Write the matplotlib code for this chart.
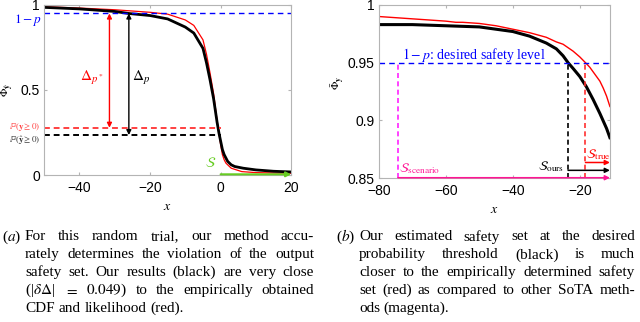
import numpy as np
import matplotlib
matplotlib.use("Agg")
import matplotlib.pyplot as plt

plt.rcParams["font.family"] = ["Liberation Sans", "DejaVu Sans"]
plt.rcParams["mathtext.fontset"] = "stix"

# --- (a) full CDF view ---
xa_ours = [-50, -40, -30, -26, -20, -15, -10, -7.6, -5, -4, -3, -2, -1.5, -1, -0.5, 0, 0.5, 1, 2, 3, 4, 6.4, 10, 15, 20]
ya_ours = [0.986, 0.977, 0.962, 0.950, 0.938, 0.918, 0.870, 0.835, 0.745, 0.66, 0.56, 0.45, 0.38, 0.31, 0.25, 0.20, 0.15, 0.12, 0.08, 0.06, 0.05, 0.04, 0.03, 0.022, 0.018]
xa_true = [-50, -40, -30, -20, -15, -10, -7.6, -5, -4, -3, -2, -1.5, -1, -0.5, 0, 0.5, 1, 1.5, 3, 6, 10, 20]
ya_true = [0.990, 0.982, 0.972, 0.957, 0.946, 0.912, 0.880, 0.795, 0.71, 0.60, 0.48, 0.40, 0.32, 0.25, 0.18, 0.12, 0.09, 0.07, 0.04, 0.02, 0.014, 0.01]
level = 0.95
p_true = 0.278
p_ours = 0.235
arrow_x_true = -31.5
arrow_x_ours = -26

# --- (b) zoom on the tail ---
xb_ours = [-80, -70, -60, -50, -45, -40, -35, -30, -27, -25, -23.5, -22, -20, -18, -16, -14, -12, -11]
yb_ours = [0.983, 0.983, 0.982, 0.981, 0.979, 0.977, 0.973, 0.967, 0.962, 0.956, 0.950, 0.945, 0.938, 0.929, 0.918, 0.906, 0.893, 0.885]
xb_true = [-80, -75, -70, -65, -60, -57, -55, -50, -45, -40, -35, -30, -27, -25, -22, -20, -18.3, -17, -16, -14, -13, -12, -11]
yb_true = [0.990, 0.989, 0.988, 0.987, 0.986, 0.985, 0.985, 0.984, 0.982, 0.979, 0.976, 0.972, 0.968, 0.966, 0.960, 0.955, 0.950, 0.946, 0.942, 0.934, 0.928, 0.921, 0.912]
s_scenario = -74.3
s_ours = -23.5
s_true = -18.3
b_end = -11

fig = plt.figure(figsize=(6.4, 3.22), dpi=100)
gray = "#b4b4b4"
serif = ["Liberation Serif", "DejaVu Serif"]


def style(ax):
    for sp in ax.spines.values():
        sp.set_color(gray)
        sp.set_linewidth(0.8)
    ax.tick_params(direction="in", length=2.5, color=gray, labelsize=10,
                   top=True, right=True, pad=3)
    ax.tick_params(axis="x", pad=4.5)


# ---------- left ----------
ax = fig.add_axes([0.069, 0.4565, 0.386, 0.528])
ax.plot(xa_true, ya_true, color="red", lw=0.9)
ax.plot(xa_ours, ya_ours, color="black", lw=2.0)
ax.axhline(level, color="blue", ls=(0, (4, 3)), lw=1)
ax.plot([-50, 0], [p_true, p_true], color="#ff4040", ls=(0, (3, 2)), lw=1.4)
ax.plot([-50, 0], [p_ours, p_ours], color="black", ls=(0, (3, 2)), lw=1.4)
ax.annotate("", xy=(arrow_x_true, p_true), xytext=(arrow_x_true, level),
            arrowprops=dict(arrowstyle="<|-|>", color="red", lw=1, mutation_scale=7, shrinkA=0, shrinkB=0))
ax.annotate("", xy=(arrow_x_ours, p_ours), xytext=(arrow_x_ours, level),
            arrowprops=dict(arrowstyle="<|-|>", color="black", lw=1, mutation_scale=7, shrinkA=0, shrinkB=0))
ax.text(-36.5, 0.57, r"$\Delta_{p^*}$", color="red", fontsize=11, ha="center", va="center")
ax.text(-22.5, 0.57, r"$\Delta_{p}$", color="black", fontsize=11, ha="center", va="center")
ax.annotate("", xy=(20, 0.004), xytext=(0, 0.004),
            arrowprops=dict(arrowstyle="-|>", color="#66cc22", lw=1.5, mutation_scale=7, shrinkA=0, shrinkB=0))
ax.text(-1.2, 0.07, r"$\mathcal{S}$", color="#66cc22", fontsize=10, ha="right", va="center")
ax.set_xlim(-50, 20)
ax.set_ylim(0, 1)
ax.set_xticks([-40, -20, 0, 20])
ax.set_yticks([0, 0.5, 1])
ax.set_yticklabels(["0", "0.5", "1"])
ax.set_xlabel(r"$x$", fontsize=10, labelpad=3)
ax.text(-0.15, 0.5, r"$\bar{\Phi}_{\hat{\mathbf{y}}}$", transform=ax.transAxes, fontsize=8,
        rotation=90, ha="center", va="center")
ax.text(-0.01, 0.912, r"$1-p$", color="blue", fontsize=9.5, ha="right", va="center",
        transform=ax.get_yaxis_transform())
ax.text(-0.015, p_true + 0.005, r"$\mathbb{P}(\mathbf{y}\geq 0)$", color="#ff4040", fontsize=6.5,
        ha="right", va="center", transform=ax.get_yaxis_transform())
ax.text(-0.015, p_ours - 0.035, r"$\mathbb{P}(\hat{\mathbf{y}}\geq 0)$", color="#333333", fontsize=6.5,
        ha="right", va="center", transform=ax.get_yaxis_transform())
style(ax)

# ---------- right ----------
bx = fig.add_axes([0.592, 0.447, 0.361, 0.5375])
bx.plot(xb_true, yb_true, color="red", lw=1)
bx.plot(xb_ours, yb_ours, color="black", lw=2.2)
bx.axhline(level, color="blue", ls=(0, (4, 3)), lw=1)
bx.plot([s_scenario, s_scenario], [0.85, level], color="#ff22ff", ls=(0, (3, 2)), lw=1.2)
bx.plot([s_ours, s_ours], [0.85, level], color="black", ls=(0, (3, 2)), lw=1.2)
bx.plot([s_true, s_true], [0.85, level], color="#ff3030", ls=(0, (3, 2)), lw=1.2)
for x0, y0, c in [(s_scenario, 0.8503, "#ff1493"), (s_ours, 0.8567, "black"), (s_true, 0.8635, "red")]:
    bx.annotate("", xy=(b_end, y0), xytext=(x0, y0),
                arrowprops=dict(arrowstyle="-|>", color=c, lw=1.1, mutation_scale=7, shrinkA=0, shrinkB=0))
bx.text(-73.2, 0.957, r"$1-p$: desired safety level", color="blue", fontsize=10, va="center",
        family=serif)
bx.text(-74, 0.858, r"$\mathcal{S}_{\mathrm{scenario}}$", color="#ff1493", fontsize=9.5, va="center")
bx.text(-24.5, 0.86, r"$\mathcal{S}_{\mathrm{ours}}$", color="black", fontsize=9.5, va="center", ha="right")
bx.text(-18, 0.8705, r"$\mathcal{S}_{\mathrm{true}}$", color="red", fontsize=9.5, va="center")
bx.set_xlim(-80, -11)
bx.set_ylim(0.85, 1)
bx.set_xticks([-80, -60, -40, -20])
bx.set_yticks([0.85, 0.9, 0.95, 1])
bx.set_yticklabels(["0.85", "0.9", "0.95", "1"])
bx.set_xlabel(r"$x$", fontsize=10, labelpad=3)
bx.text(-0.177, 0.55, r"$\bar{\Phi}_{\mathbf{y}}$", transform=bx.transAxes, fontsize=8,
        rotation=90, ha="center", va="center")
style(bx)

# ---------- captions (justified) ----------
renderer = fig.canvas.get_renderer()
W, H = fig.bbox.width, fig.bbox.height
cap_font = dict(family=serif, fontsize=11, va="baseline")


def text_width(s):
    t = fig.text(0, 0, s, **cap_font)
    w = t.get_window_extent(renderer).width
    t.remove()
    return w


space = text_width("a a") - text_width("aa")


def caption(label, lines, x_lab, x0, x1, y_first, dy):
    fig.text(x_lab / W, 1 - y_first / H, label, **cap_font)
    for i, line in enumerate(lines):
        y = 1 - (y_first + i * dy) / H
        words = line.split(" ")
        ts = [fig.text(0, y, w, **cap_font) for w in words]
        ws = [t.get_window_extent(renderer).width for t in ts]
        if i == len(lines) - 1:
            gap = space
        else:
            gap = (x1 - x0 - sum(ws)) / (len(ws) - 1)
        x = x0
        for t, w in zip(ts, ws):
            t.set_x(x / W)
            x += w + gap


caption(r"($a$)", [
    "For this random trial, our method accu-",
    "rately determines the violation of the output",
    "safety set. Our results (black) are very close",
    r"(|$\delta\Delta$| $=$ $0.049$) to the empirically obtained",
    "CDF and likelihood (red).",
], 2, 25, 314, 240.5, 17.9)

caption(r"($b$)", [
    "Our estimated safety set at the desired",
    "probability threshold (black) is much",
    "closer to the empirically determined safety",
    "set (red) as compared to other SoTA meth-",
    "ods (magenta).",
], 336, 359, 635, 240.5, 17.9)

fig.savefig("out.png", dpi=100)
